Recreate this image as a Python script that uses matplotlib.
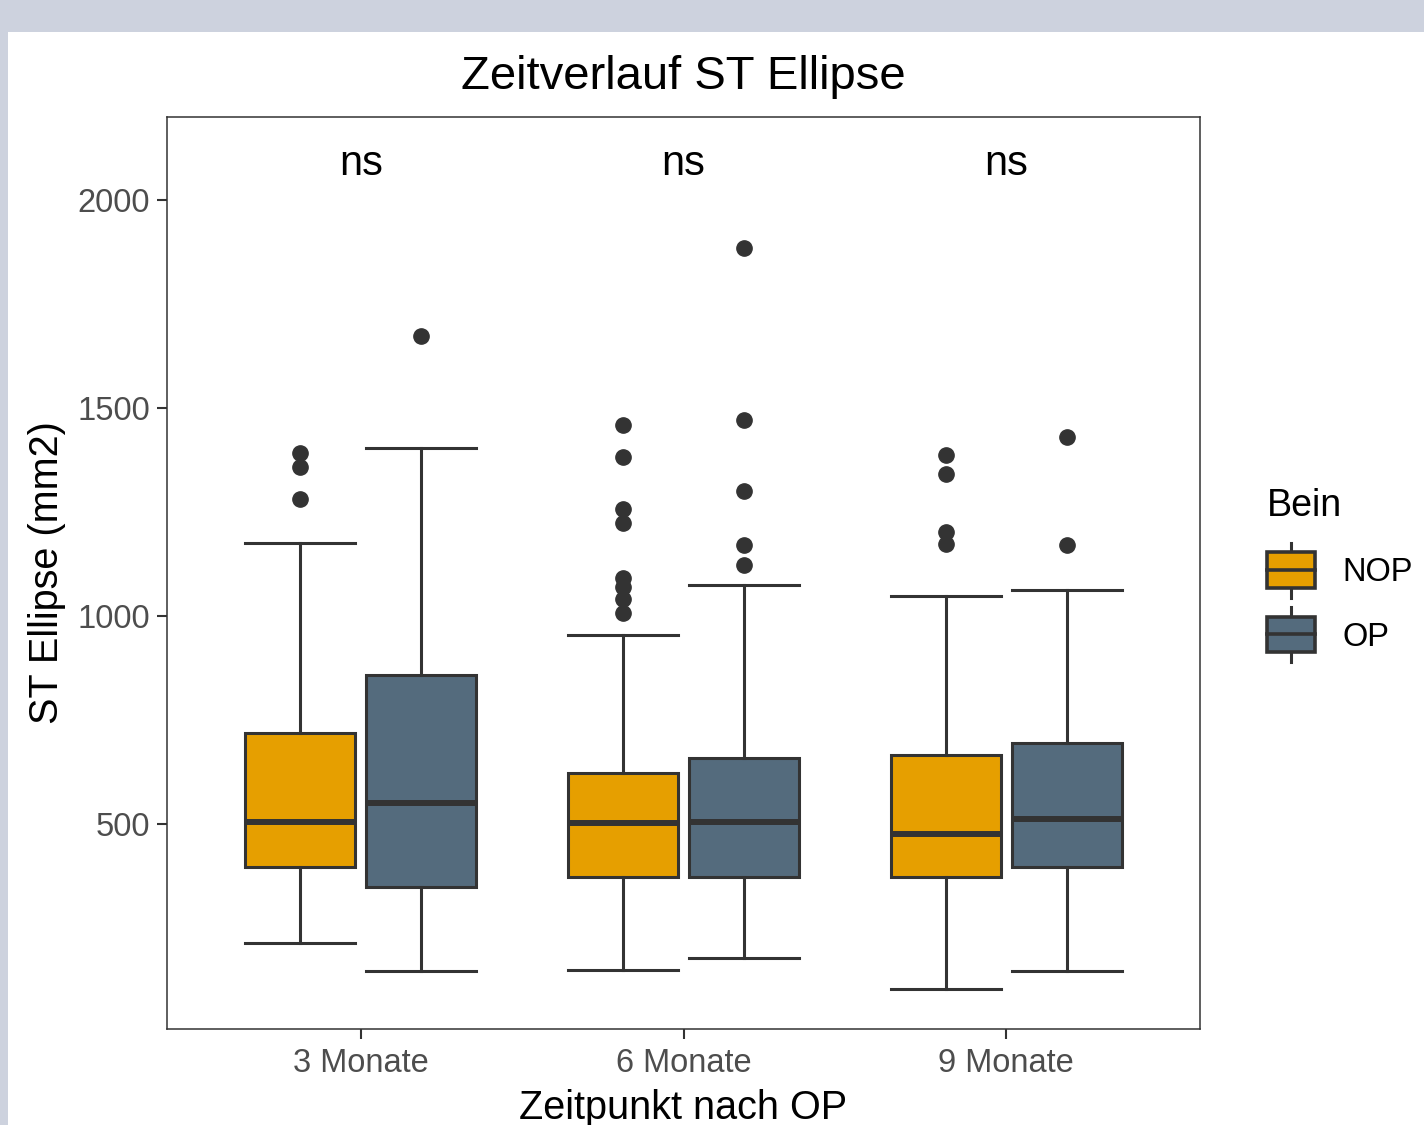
import matplotlib.pyplot as plt
from matplotlib.patches import Rectangle, Patch
from matplotlib.lines import Line2D
from matplotlib.legend_handler import HandlerBase

plt.rcParams['font.family'] = ['Liberation Sans', 'DejaVu Sans']

# Daten
zeitpunkte = ['3 Monate', '6 Monate', '9 Monate']
gruppen = ['NOP', 'OP']
farben = {'NOP': '#E69F00', 'OP': '#546B7D'}

nop_whislo = [214, 149, 103]
nop_q1 = [397, 373, 373]
nop_med = [505, 502, 476]
nop_q3 = [719, 623, 666]
nop_whishi = [1175, 954, 1048]
nop_fliers = [[1392, 1358, 1281],
              [1459, 1382, 1257, 1224, 1091, 1070, 1041, 1007],
              [1387, 1341, 1202, 1173]]

op_whislo = [147, 178, 147]
op_q1 = [349, 373, 397]
op_med = [550, 505, 512]
op_q3 = [858, 659, 695]
op_whishi = [1404, 1075, 1063]
op_fliers = [[1673],
             [1885, 1471, 1301, 1171, 1123],
             [1430, 1171]]

signif = ['ns', 'ns', 'ns']

EDGE = '#333333'


def make_stats(lo, q1, med, q3, hi, fl):
    return [dict(whislo=lo[i], q1=q1[i], med=med[i], q3=q3[i], whishi=hi[i], fliers=fl[i])
            for i in range(len(med))]


class BoxHandler(HandlerBase):
    # kleiner Boxplot als Legendensymbol
    def create_artists(self, legend, orig_handle, xdescent, ydescent, width, height, fontsize, trans):
        x0, y0 = -xdescent, -ydescent
        xm = x0 + width / 2
        ym = y0 + height / 2
        bh = 0.545 * fontsize
        wh = 0.85 * fontsize
        whisk = Line2D([xm, xm], [ym - wh, ym + wh], color=EDGE, lw=2.2, transform=trans)
        rect = Rectangle((x0, ym - bh), width, 2 * bh, facecolor=orig_handle.get_facecolor(),
                         edgecolor=EDGE, lw=2.6, transform=trans)
        med = Line2D([x0, x0 + width], [ym, ym], color=EDGE, lw=2.6, transform=trans)
        return [whisk, rect, med]


fig = plt.figure(figsize=(14.24, 11.25), dpi=100, facecolor='#CDD2DE')
fig.patches.append(Rectangle((8 / 1424, 0), 1, 1 - 32 / 1125, transform=fig.transFigure,
                             facecolor='white', edgecolor='none', zorder=-5))

ax = fig.add_axes([167 / 1424, 1 - 1029 / 1125, (1200 - 167) / 1424, (1029 - 117) / 1125])

pos = [1, 2, 3]
dodge = 0.1875
breite = 0.34
for name, stats, off in [('NOP', make_stats(nop_whislo, nop_q1, nop_med, nop_q3, nop_whishi, nop_fliers), -dodge),
                         ('OP', make_stats(op_whislo, op_q1, op_med, op_q3, op_whishi, op_fliers), dodge)]:
    ax.bxp(stats, positions=[p + off for p in pos], widths=breite, capwidths=breite,
           patch_artist=True, manage_ticks=False,
           boxprops=dict(facecolor=farben[name], edgecolor=EDGE, linewidth=2.2),
           whiskerprops=dict(color=EDGE, linewidth=2.2),
           capprops=dict(color=EDGE, linewidth=2.2),
           medianprops=dict(color=EDGE, linewidth=4.3, solid_capstyle='butt'),
           flierprops=dict(marker='o', markerfacecolor=EDGE, markeredgecolor=EDGE, markersize=11))

for p, s in zip(pos, signif):
    ax.text(p, 2088, s, ha='center', va='center', fontsize=30)

ax.set_xlim(0.4, 3.6)
ax.set_ylim(7, 2200)
ax.set_xticks(pos)
ax.set_xticklabels(zeitpunkte)
ax.set_yticks([500, 1000, 1500, 2000])
ax.tick_params(axis='both', length=7, width=1.5, color=EDGE, labelcolor='#4D4D4D', labelsize=23.5)
ax.tick_params(axis='y', pad=5)
ax.tick_params(axis='x', pad=7)
for sp in ax.spines.values():
    sp.set_color(EDGE)
    sp.set_linewidth(1.1)

ax.set_title('Zeitverlauf ST Ellipse', fontsize=34, pad=20)
ax.set_xlabel('Zeitpunkt nach OP', fontsize=28.5, labelpad=7)
ax.set_ylabel('ST Ellipse (mm2)', fontsize=28.5, labelpad=8)

handles = [Patch(facecolor=farben[g]) for g in gruppen]
leg = fig.legend(handles, gruppen, title='Bein', loc='upper left',
                 bbox_to_anchor=(1251 / 1424, 1 - 472 / 1125), frameon=False,
                 fontsize=23.5, title_fontsize=27, handlelength=1.45, handleheight=0.97,
                 labelspacing=0.97, handletextpad=0.85, borderpad=0, alignment='left',
                 handler_map={Patch: BoxHandler()})

fig.savefig('out.png', dpi=100, facecolor=fig.get_facecolor())
